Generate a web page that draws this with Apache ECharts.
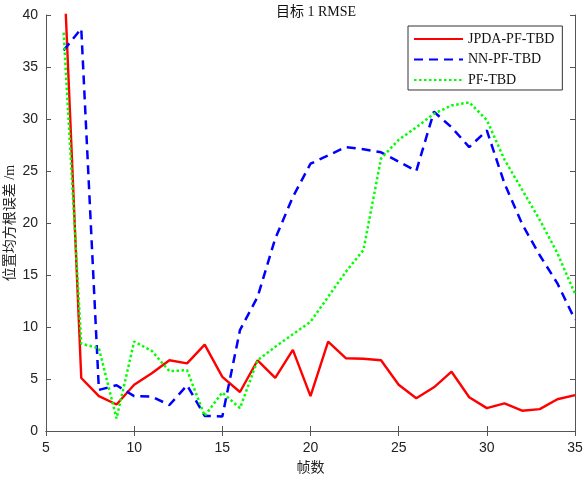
<!DOCTYPE html>
<html>
<head>
<meta charset="utf-8">
<script src="https://cdn.jsdelivr.net/npm/echarts@6/dist/echarts.min.js"></script>
<style>
  html, body { margin: 0; padding: 0; background: #fff; }
  #main { width: 583px; height: 477px; }
</style>
</head>
<body>
<div id="main"></div>
<script>
// frame numbers 6..35
const frames = [6, 7, 8, 9, 10, 11, 12, 13, 14, 15, 16, 17, 18, 19, 20,
  21, 22, 23, 24, 25, 26, 27, 28, 29, 30, 31, 32, 33, 34, 35];

const jpdaPfTbd = [45, 5.1, 3.35, 2.55, 4.45, 5.55, 6.8, 6.5, 8.3, 5.2,
  3.75, 6.8, 5.1, 7.8, 3.35, 8.6, 7.0, 6.95, 6.8, 4.45,
  3.15, 4.2, 5.7, 3.25, 2.2, 2.65, 1.95, 2.1, 3.05, 3.45];

const nnPfTbd = [36.6, 38.7, 3.95, 4.4, 3.35, 3.3, 2.5, 4.4, 1.45, 1.4,
  9.7, 12.9, 18.5, 22.5, 25.7, 26.5, 27.3, 27.1, 26.8, 25.9,
  25.0, 30.7, 29.2, 27.3, 28.9, 23.8, 19.9, 16.9, 14.2, 10.7];

const pfTbd = [38.3, 8.4, 7.95, 1.2, 8.6, 7.7, 5.75, 5.85, 1.45, 3.7,
  2.2, 6.8, 8.1, 9.3, 10.5, 12.9, 15.3, 17.4, 26.2, 28.0,
  29.2, 30.5, 31.3, 31.6, 29.9, 26.1, 23.2, 20.3, 17.1, 13.2];

const seriesNames = ["JPDA-PF-TBD", "NN-PF-TBD", "PF-TBD"];

const serif = '"Liberation Serif", "Noto Sans CJK SC", serif';
const sans = '"Liberation Sans", Arial, sans-serif';
const axisColor = "#555";

const pairs = (ys) => frames.map((x, i) => [x, ys[i]]);

const chart = echarts.init(document.getElementById("main"));

// top and right axes only close the box (MATLAB style), no labels
const boxAxis = {
  axisLine: { show: true, lineStyle: { color: axisColor, width: 1 } },
  axisTick: { show: true, inside: true, length: 5, lineStyle: { color: axisColor } },
  axisLabel: { show: false },
  splitLine: { show: false }
};

const option = {
  animation: false,
  backgroundColor: "#fff",
  title: {
    text: "目标 1 RMSE",
    left: 311,
    top: 0,
    textAlign: "center",
    textStyle: { fontFamily: serif, fontSize: 14, fontWeight: "normal", color: "#111" }
  },
  legend: {
    orient: "vertical",
    left: 408,
    top: 26,
    padding: [6, 8, 3, 5],
    itemWidth: 49,
    itemHeight: 14,
    itemGap: 6.5,
    borderColor: "#333",
    borderWidth: 1,
    backgroundColor: "#fff",
    itemStyle: { opacity: 0 },
    textStyle: { fontFamily: serif, fontSize: 14, color: "#111" },
    data: seriesNames
  },
  grid: { left: 46, right: 8, top: 15, bottom: 46, containLabel: false, outerBoundsMode: "none" },
  xAxis: [
    {
      type: "value",
      min: 5,
      max: 35,
      interval: 5,
      name: "帧数",
      nameLocation: "middle",
      nameGap: 30,
      nameMoveOverlap: false,
      nameTextStyle: { fontFamily: serif, fontSize: 14, color: "#222" },
      axisLine: { show: true, lineStyle: { color: axisColor } },
      axisTick: { show: true, inside: true, length: 5, lineStyle: { color: axisColor } },
      axisLabel: { fontFamily: sans, fontSize: 14, color: "#222", margin: 10 },
      splitLine: { show: false }
    },
    Object.assign({ type: "value", position: "top", min: 5, max: 35, interval: 5 }, boxAxis)
  ],
  yAxis: [
    {
      type: "value",
      min: 0,
      max: 40,
      interval: 5,
      name: "位置均方根误差 /m",
      nameLocation: "middle",
      nameGap: 29,
      nameMoveOverlap: false,
      nameTextStyle: { fontFamily: serif, fontSize: 14, color: "#222" },
      axisLine: { show: true, lineStyle: { color: axisColor } },
      axisTick: { show: true, inside: true, length: 5, lineStyle: { color: axisColor } },
      axisLabel: { fontFamily: sans, fontSize: 14, color: "#222", margin: 8 },
      splitLine: { show: false }
    },
    Object.assign({ type: "value", position: "right", min: 0, max: 40, interval: 5 }, boxAxis)
  ],
  series: [
    {
      name: seriesNames[0],
      type: "line",
      data: pairs(jpdaPfTbd),
      symbol: "none",
      clip: true,
      color: "#ff0000",
      lineStyle: { color: "#ff0000", width: 2.4 }
    },
    {
      name: seriesNames[1],
      type: "line",
      data: pairs(nnPfTbd),
      symbol: "none",
      clip: true,
      color: "#0000ff",
      lineStyle: { color: "#0000ff", width: 2.5, type: [9, 6] }
    },
    {
      name: seriesNames[2],
      type: "line",
      data: pairs(pfTbd),
      symbol: "none",
      clip: true,
      color: "#00ff00",
      lineStyle: { color: "#00ff00", width: 2.5, type: [2.5, 2.5] }
    }
  ]
};

chart.setOption(option);
</script>
</body>
</html>
